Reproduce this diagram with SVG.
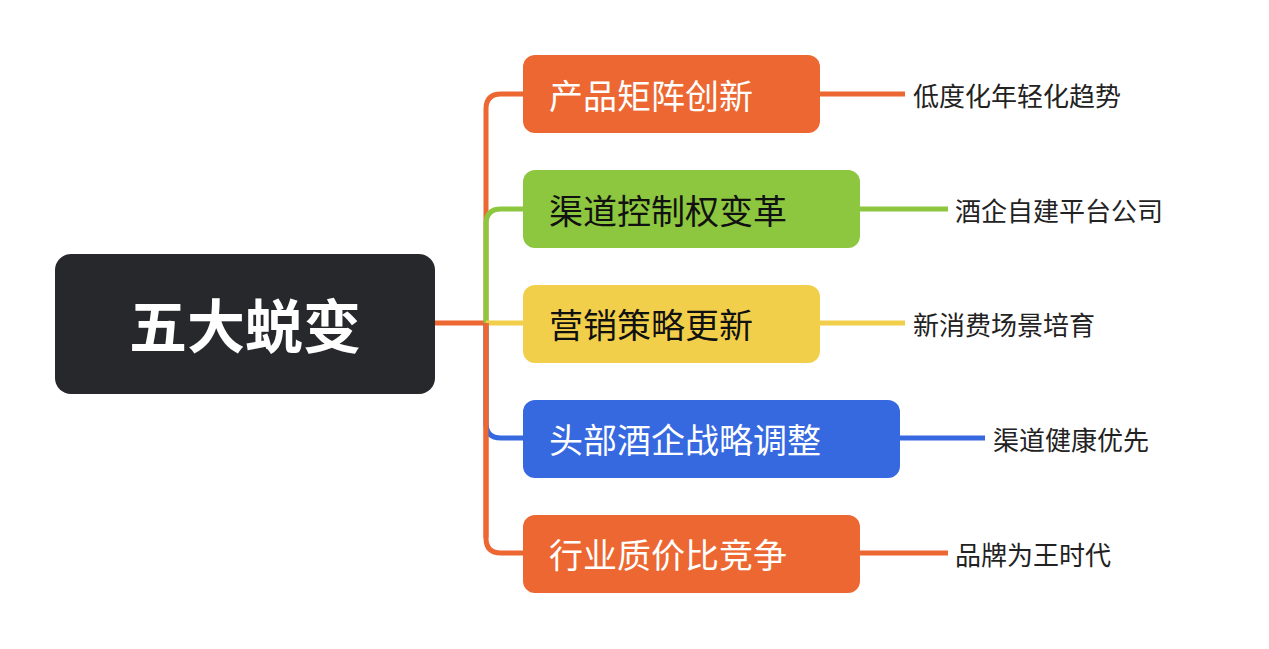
<svg xmlns="http://www.w3.org/2000/svg" width="1269" height="649" viewBox="0 0 1269 649">
<style>
text{font-family:"Noto Sans CJK SC",sans-serif;dominant-baseline:central}
.b{font-size:34px}
.s{font-size:26px;fill:#222}
.l{fill:none;stroke-width:5}
</style>
<rect width="1269" height="649" fill="#fff"/>
<g id="connectors">
<path class="l" stroke="#ec6731" d="M435 323H486V109Q486 94 501 94H523M486 323V538Q486 553 501 553H523"/>
<path class="l" stroke="#8dc63f" d="M486 323V224Q486 209 501 209H523"/>
<path class="l" stroke="#f2cf4a" d="M486 323H523"/>
<path class="l" stroke="#3669e0" d="M486 323V423Q486 438 501 438H523"/>
<path class="l" stroke="#ec6731" d="M486 323V538"/>
<path class="l" stroke="#ec6731" d="M820 94H905"/>
<path class="l" stroke="#8dc63f" d="M860 209H948"/>
<path class="l" stroke="#f2cf4a" d="M820 323H905"/>
<path class="l" stroke="#3669e0" d="M900 438H985"/>
<path class="l" stroke="#ec6731" d="M860 553H948"/>
</g>
<g id="root"><rect x="55" y="254" width="380" height="140" rx="16" fill="#27282c"/><text x="245" y="323" text-anchor="middle" font-size="58" font-weight="bold" fill="#fff">五大蜕变</text></g>
<g id="n1"><rect x="523" y="55" width="297" height="78" rx="12" fill="#ec6731"/><text class="b" x="549" y="94" fill="#fff">产品矩阵创新</text></g>
<g id="n2"><rect x="523" y="170" width="337" height="78" rx="12" fill="#8dc63f"/><text class="b" x="549" y="209" fill="#111">渠道控制权变革</text></g>
<g id="n3"><rect x="523" y="285" width="297" height="78" rx="12" fill="#f2cf4a"/><text class="b" x="549" y="323" fill="#111">营销策略更新</text></g>
<g id="n4"><rect x="523" y="400" width="377" height="78" rx="12" fill="#3669e0"/><text class="b" x="549" y="438" fill="#fff">头部酒企战略调整</text></g>
<g id="n5"><rect x="523" y="515" width="337" height="78" rx="12" fill="#ec6731"/><text class="b" x="549" y="553" fill="#fff">行业质价比竞争</text></g>
<g id="s1"><text class="s" x="913" y="94">低度化年轻化趋势</text></g>
<g id="s2"><text class="s" x="955" y="209">酒企自建平台公司</text></g>
<g id="s3"><text class="s" x="913" y="323">新消费场景培育</text></g>
<g id="s4"><text class="s" x="993" y="438">渠道健康优先</text></g>
<g id="s5"><text class="s" x="955" y="553">品牌为王时代</text></g>
</svg>
